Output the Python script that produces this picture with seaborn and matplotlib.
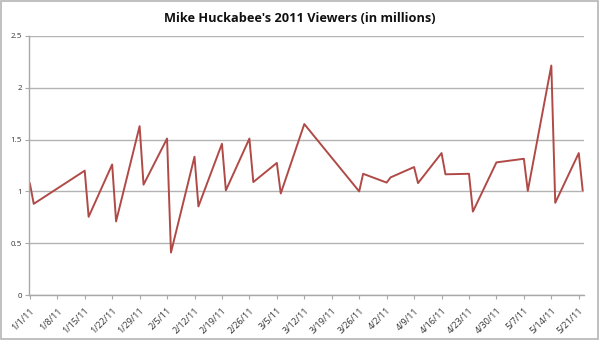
import matplotlib
matplotlib.use("Agg")
import matplotlib.pyplot as plt
import seaborn as sns
import pandas as pd
import numpy as np
from matplotlib.patches import Rectangle

# ---- data ----
dates = ["2011-01-01", "2011-01-02", "2011-01-15", "2011-01-16", "2011-01-22", "2011-01-23",
         "2011-01-29", "2011-01-30", "2011-02-05", "2011-02-06", "2011-02-12", "2011-02-13",
         "2011-02-19", "2011-02-20", "2011-02-26", "2011-02-27", "2011-03-05", "2011-03-06",
         "2011-03-12", "2011-03-26", "2011-03-27", "2011-04-02", "2011-04-03", "2011-04-09",
         "2011-04-10", "2011-04-16", "2011-04-17", "2011-04-23", "2011-04-24", "2011-04-30",
         "2011-05-07", "2011-05-08", "2011-05-14", "2011-05-15", "2011-05-21", "2011-05-22"]
viewers = [1.08, 0.88, 1.20, 0.755, 1.26, 0.71,
           1.63, 1.065, 1.51, 0.41, 1.335, 0.855,
           1.46, 1.01, 1.51, 1.09, 1.275, 0.98,
           1.65, 1.00, 1.17, 1.085, 1.135, 1.235,
           1.08, 1.37, 1.165, 1.17, 0.805, 1.28,
           1.315, 1.005, 2.215, 0.89, 1.37, 1.01]
tick_dates = ["2011-01-01", "2011-01-08", "2011-01-15", "2011-01-22", "2011-01-29", "2011-02-05",
              "2011-02-12", "2011-02-19", "2011-02-26", "2011-03-05", "2011-03-12", "2011-03-19",
              "2011-03-26", "2011-04-02", "2011-04-09", "2011-04-16", "2011-04-23", "2011-04-30",
              "2011-05-07", "2011-05-14", "2011-05-21"]
tick_labels = ["1/1/11", "1/8/11", "1/15/11", "1/22/11", "1/29/11", "2/5/11", "2/12/11",
               "2/19/11", "2/26/11", "3/5/11", "3/12/11", "3/19/11", "3/26/11", "4/2/11",
               "4/9/11", "4/16/11", "4/23/11", "4/30/11", "5/7/11", "5/14/11", "5/21/11"]
y_ticks = [0, 0.5, 1, 1.5, 2, 2.5]
y_labels = ["0", "0.5", "1", "1.5", "2", "2.5"]
title = "Mike Huckabee's 2011 Viewers (in millions)"

df = pd.DataFrame({"date": pd.to_datetime(dates), "viewers": viewers})

sns.set_theme(style="white")
plt.rcParams["font.family"] = ["Open Sans", "DejaVu Sans"]

fig = plt.figure(figsize=(6, 3.4), dpi=100)
ax = fig.add_axes([29 / 600, 1 - 295 / 340, (584 - 29) / 600, (295 - 36) / 340])

sns.lineplot(data=df, x="date", y="viewers", ax=ax, color="#b04a47", linewidth=1.4)

ax.set_ylim(0, 2.5)
ax.set_yticks(y_ticks)
ax.set_yticklabels(y_labels, fontsize=5.8, color="#333333")
d0 = pd.Timestamp(dates[0])
d1 = pd.Timestamp(dates[-1])
ax.set_xlim(d0 - pd.Timedelta(hours=5), d1 + pd.Timedelta(hours=8))
ax.set_xticks(pd.to_datetime(tick_dates))
ax.set_xticklabels(tick_labels, rotation=45, ha="right", rotation_mode="anchor",
                   fontsize=6.5, color="#333333")
ax.set_xlabel("")
ax.set_ylabel("")

ax.grid(axis="y", color="#b3b3b3", linewidth=1.0)
ax.grid(axis="x", visible=False)
for s in ["top", "right"]:
    ax.spines[s].set_visible(False)
for s in ["left", "bottom"]:
    ax.spines[s].set_color("#a8a8a8")
    ax.spines[s].set_linewidth(1.0)
ax.tick_params(axis="both", which="major", length=3, width=0.8, color="#a8a8a8",
               direction="out", pad=2, left=True, bottom=True)
ax.tick_params(axis="x", pad=5)

fig.text(0.5, 1 - 18 / 340, title, ha="center", va="center", fontsize=9.2,
         fontweight="bold", color="#111111")

fig.patches.append(Rectangle((0.002, 0.003), 0.994, 0.993, transform=fig.transFigure,
                             fill=False, edgecolor="#b5b5b5", linewidth=1.2))

fig.savefig("out.png", dpi=100)
